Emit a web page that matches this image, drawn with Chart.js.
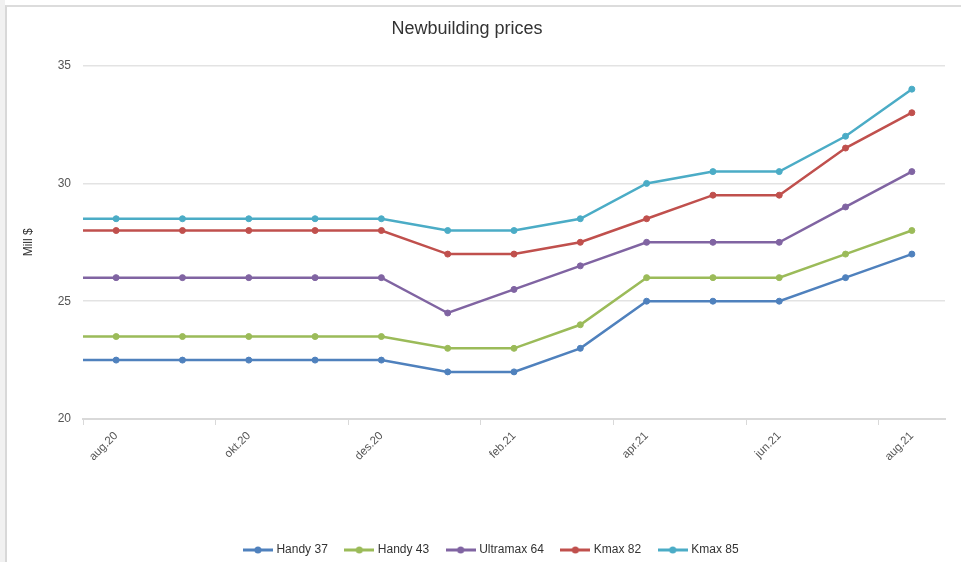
<!DOCTYPE html>
<html>
<head>
<meta charset="utf-8">
<script src="https://cdn.jsdelivr.net/npm/chart.js@4"></script>
<style>
  html, body { margin: 0; padding: 0; background: #fff; }
  body { width: 961px; height: 562px; overflow: hidden; position: relative; }
  #edge { position: absolute; left: 0; top: 0; width: 5px; height: 562px; background: #f1f1f1; }
  #frame { position: absolute; left: 5px; top: 5px; width: 956px; height: 557px;
           border-left: 2px solid #d8d8d8; border-top: 2px solid #dcdcdc; box-sizing: border-box; }
  #wrap { position: absolute; left: 7px; top: 7px; width: 954px; height: 559px; }
</style>
</head>
<body>
<div id="edge"></div>
<div id="frame"></div>
<div id="wrap"><canvas id="priceChart"></canvas></div>
<script>
// months (jul.20 is only there so the lines run in from the left edge like the original)
var months = ['jul.20', 'aug.20', 'sep.20', 'okt.20', 'nov.20', 'des.20', 'jan.21', 'feb.21',
              'mar.21', 'apr.21', 'mai.21', 'jun.21', 'jul.21', 'aug.21'];
var handy37    = [22.5, 22.5, 22.5, 22.5, 22.5, 22.5, 22, 22, 23, 25, 25, 25, 26, 27];
var handy43    = [23.5, 23.5, 23.5, 23.5, 23.5, 23.5, 23, 23, 24, 26, 26, 26, 27, 28];
var ultramax64 = [26, 26, 26, 26, 26, 26, 24.5, 25.5, 26.5, 27.5, 27.5, 27.5, 29, 30.5];
var kmax82     = [28, 28, 28, 28, 28, 28, 27, 27, 27.5, 28.5, 29.5, 29.5, 31.5, 33];
var kmax85     = [28.5, 28.5, 28.5, 28.5, 28.5, 28.5, 28, 28, 28.5, 30, 30.5, 30.5, 32, 34];
var yTicks = [20, 25, 30, 35];

// legend marker: line with a dot in the middle
function marker(color) {
    var c = document.createElement('canvas');
    c.width = 30; c.height = 10;
    var g = c.getContext('2d');
    g.strokeStyle = color; g.lineWidth = 3;
    g.beginPath(); g.moveTo(0, 5); g.lineTo(30, 5); g.stroke();
    g.fillStyle = color;
    g.beginPath(); g.arc(15, 5, 3.5, 0, Math.PI * 2); g.fill();
    return c;
}

function series(label, values, color) {
    return {
        label: label,
        data: values,
        borderColor: color,
        backgroundColor: color,
        borderWidth: 2.5,
        pointRadius: 3,
        pointBorderWidth: 1,
        pointHoverRadius: 3,
        pointStyle: 'circle',
        legendStyle: marker(color),
        tension: 0
    };
}

// the original legend sits a bit right of centre, the title a bit left
var nudgeBlocks = {
    id: 'nudgeBlocks',
    afterUpdate: function(chart) {
        var l = chart.legend;
        if (l) {
            l.left += 12; l.right += 12;
            (l.legendHitBoxes || []).forEach(function(h) { h.left += 12; });
        }
        var t = chart.titleBlock;
        if (t) { t.left -= 13; t.right -= 13; }
    }
};

document.addEventListener("DOMContentLoaded", function() {
    var ctx = document.getElementById('priceChart').getContext('2d');
    var ds = [
        series('Handy 37', handy37, '#4F81BD'),
        series('Handy 43', handy43, '#9BBB59'),
        series('Ultramax 64', ultramax64, '#8064A2'),
        series('Kmax 82', kmax82, '#C0504D'),
        series('Kmax 85', kmax85, '#4BACC6')
    ];

    var chart = new Chart(ctx, {
        type: 'line',
        data: { labels: months, datasets: ds },
        plugins: [nudgeBlocks],
        options: {
            responsive: true,
            maintainAspectRatio: false,
            animation: false,
            layout: { padding: { left: 8, right: 16, top: 8, bottom: 0 } },
            plugins: {
                title: {
                    display: true,
                    text: 'Newbuilding prices',
                    color: '#333',
                    font: { family: 'Liberation Sans', size: 18, weight: 'normal' },
                    padding: { top: 3, bottom: 26 }
                },
                legend: {
                    position: 'bottom',
                    labels: {
                        usePointStyle: true,
                        pointStyleWidth: 25,
                        color: '#333',
                        font: { family: 'Liberation Sans', size: 12 },
                        padding: 19,
                        generateLabels: function(ch) {
                            return ch.data.datasets.map(function(d, i) {
                                return {
                                    text: d.label,
                                    pointStyle: d.legendStyle,
                                    fillStyle: d.borderColor,
                                    strokeStyle: d.borderColor,
                                    fontColor: '#333',
                                    lineWidth: 0,
                                    hidden: false,
                                    datasetIndex: i
                                };
                            });
                        }
                    }
                },
                tooltip: { enabled: false }
            },
            scales: {
                x: {
                    min: 'aug.20',
                    offset: true,
                    afterFit: function(s) { s.height = 106; },
                    grid: {
                        offset: true,
                        drawOnChartArea: false,
                        tickLength: 6,
                        tickColor: function(c) { return c.index % 2 === 0 ? '#d9d9d9' : 'rgba(0,0,0,0)'; }
                    },
                    border: { color: '#d9d9d9', width: 2 },
                    ticks: {
                        autoSkip: false,
                        maxRotation: 45,
                        minRotation: 45,
                        color: '#555',
                        padding: 4,
                        font: { family: 'Liberation Sans', size: 11.5 },
                        callback: function(v, i) { return i % 2 === 0 ? this.getLabelForValue(v) : ''; }
                    }
                },
                y: {
                    min: 20,
                    max: 35,
                    afterFit: function(s) { s.width = 68; },
                    afterBuildTicks: function(s) { s.ticks = yTicks.map(function(v) { return { value: v }; }); },
                    grid: { color: '#e3e3e3', lineWidth: 1.5, drawTicks: false },
                    border: { display: false },
                    ticks: {
                        padding: 12,
                        color: '#555',
                        font: { family: 'Liberation Sans', size: 12 }
                    },
                    title: {
                        display: true,
                        text: 'Mill $',
                        color: '#333',
                        font: { family: 'Liberation Sans', size: 12 },
                        padding: { top: 6, bottom: 22 }
                    }
                }
            }
        }
    });
});
</script>
</body>
</html>
